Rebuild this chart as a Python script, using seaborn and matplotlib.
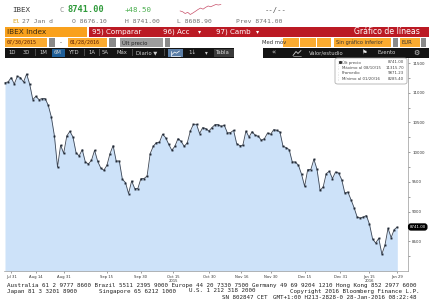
import matplotlib
matplotlib.use("Agg")
import matplotlib.pyplot as plt
import seaborn as sns
import pandas as pd
from matplotlib.patches import Rectangle, FancyBboxPatch
from matplotlib.lines import Line2D

# ---------------- data ----------------
close_a = [11171, 11181, 11255, 11147, 11277, 11255, 11181, 11316, 11142, 10885, 10940,
           10885, 10902, 10902, 10789, 10592, 10272, 9750, 10116, 9981, 10272, 10351,
           10255, 9993, 9936, 10043, 9835, 9801, 9863, 10032, 9846, 9734, 9695]
close_b = [9779, 9976, 10111, 9851, 9851, 9543, 9488, 9303, 9515, 9387, 9387, 9555,
           9555, 9599, 9976, 10099, 10161, 10166, 10301, 10245, 10133, 10032, 10099,
           10228, 10183, 10099, 10154, 10356, 10469, 10469, 10313, 10414]
close_c = [10397, 10356, 10414, 10464, 10464, 10435, 10452, 10323, 10329, 10368, 10144,
           10111, 10116, 10356, 10255, 10346, 10284, 10267, 10200, 10228, 10323, 10301,
           10380, 10368, 10340, 10099, 10077, 10043, 9835, 9835, 9779, 9628, 9426]
close_d = [9707, 9707, 9880, 9712, 9358, 9414, 9639, 9678, 9555, 9666, 9649, 9538,
           9313, 9330, 9202, 9067, 8909, 8892, 8909, 8933, 8786, 8539, 8471, 8550,
           8285, 8433, 8719, 8562, 8697, 8741]
close_values = close_a + close_b + close_c + close_d

tick_labels = ["Jul 31", "Aug 14", "Aug 31", "Sep 15", "Sep 30", "Oct 15\n2015", "Oct 30",
               "Nov 16", "Nov 30", "Dec 15", "Dec 31", "Jan 15\n2016", "Jan 29"]
tick_index = [2, 10, 19, 33, 44, 54.5, 66, 76.5, 86, 97, 108.5, 118, 127]
y_ticks = [8500, 9000, 9500, 10000, 10500, 11000, 11500]
y_minor = [8250, 8750, 9250, 9750, 10250, 10750, 11250]
last_price = 8741.00

intraday = [8676, 8668, 8650, 8662, 8640, 8655, 8672, 8690, 8705, 8694, 8712, 8726,
            8718, 8730, 8741, 8736, 8741]

legend_names = ["Últ precio", "Máximo al 08/10/15", "Promedio", "Mínimo al 01/20/16"]
legend_values = ["8741.00", "11315.70", "9871.23", "8285.40"]

# ---------------- figure ----------------
sns.set_style("white")
plt.rcParams["font.family"] = ["DejaVu Sans"]
W, H = 432, 306
fig = plt.figure(figsize=(W / 100, H / 100), dpi=100)
fig.patch.set_facecolor("white")


def fx(x):
    return x / W


def fy(y):
    return 1 - y / H


def rect(x0, y0, x1, y1, color, z=1, ec="none", lw=0):
    fig.add_artist(Rectangle((fx(x0), fy(y1)), fx(x1) - fx(x0), fy(y0) - fy(y1),
                             transform=fig.transFigure, facecolor=color, edgecolor=ec,
                             lw=lw, zorder=z))


def txt(x, y, s, size=4.5, color="#333333", family="DejaVu Sans", weight="normal",
        ha="left", z=5):
    fig.text(fx(x), fy(y), s, fontsize=size, color=color, family=family, weight=weight,
             ha=ha, va="center", zorder=z)


def poly(xs, ys, color, lw=0.5, z=6):
    fig.add_artist(Line2D([fx(v) for v in xs], [fy(v) for v in ys],
                          transform=fig.transFigure, color=color, lw=lw, zorder=z))


MONO = "DejaVu Sans Mono"
ORANGE = "#f9a11c"
ORANGE2 = "#fbab30"
RED = "#bb1a24"

# ---- header row 1
txt(12, 10, "IBEX", 5.4, "#3a3a3a", MONO)
txt(60, 10, "C", 5.2, "#8a8a8a", MONO)
txt(67, 10, "8741.00", 6.2, "#2f9a3a", MONO, "bold")
txt(125, 10, "+48.50", 5.4, "#4caf50", MONO)
txt(265, 10, "--/--", 5.2, "#555555", MONO)
sp = fig.add_axes([fx(178), fy(15), fx(223) - fx(178), fy(4) - fy(15)])
sns.lineplot(x=list(range(len(intraday))), y=intraday, ax=sp, color="#c8506a", lw=0.5)
sp.axis("off")

# ---- header row 2
txt(12, 21.5, "El", 4.6, "#d9a21c", MONO)
txt(22, 21.5, "27 Jan d", 4.6, "#707070", MONO)
txt(72, 21.5, "O 8676.10", 4.6, "#707070", MONO)
txt(125, 21.5, "H 8741.00", 4.6, "#707070", MONO)
txt(177, 21.5, "L 8608.90", 4.6, "#707070", MONO)
txt(236, 21.5, "Prev 8741.00", 4.6, "#707070", MONO)

# ---- row 3 : orange + red bar
rect(5, 27, 87, 37, ORANGE)
txt(7, 32, "IBEX Index", 5.3, "#3b2a10")
rect(89, 27, 429, 37, RED)
txt(92, 32, "95) Comparar", 5.1, "white")
txt(163, 32, "96) Acc", 5.1, "white")
txt(198, 32, "▾", 4.5, "white")
txt(216, 32, "97) Camb", 5.1, "white")
txt(256, 32, "▾", 4.5, "white")
txt(420, 32, "Gráfico de líneas", 5.6, "white", ha="right")

# ---- row 4 : date boxes etc
rect(5, 38.5, 47, 46.5, ORANGE2)
txt(7, 42.5, "07/30/2015", 3.6, "#5a1a00", MONO)
rect(48.5, 38.5, 55, 46.5, "#8a8a8a")
txt(60, 42.5, "-", 4, "#333333")
rect(68, 38.5, 107, 46.5, ORANGE2)
txt(70, 42.5, "01/28/2016", 3.6, "#5a1a00", MONO)
rect(109, 38.5, 116, 46.5, "#8a8a8a")
rect(120, 38.5, 163, 46.5, "#9d9d9d")
txt(122, 42.5, "Últ precio", 3.8, "#222222")
rect(164.5, 38.5, 170, 46.5, "#8a8a8a")
txt(262, 42.5, "Med móv", 3.8, "#333333")
for a, b in [(283, 298.5), (299.5, 315.5), (316.5, 331)]:
    rect(a, 38.5, b, 46.5, ORANGE2)
rect(334, 38.5, 391, 46.5, ORANGE2)
txt(336, 42.5, "Sin gráfico inferior", 3.6, "#333333")
rect(392.5, 38.5, 398, 46.5, "#8a8a8a")
rect(399.5, 38.5, 419.5, 46.5, ORANGE2)
txt(402, 42.5, "EUR", 3.8, "#333333")
rect(421, 38.5, 426, 46.5, "#8a8a8a")

# ---- row 5 : black toolbars
rect(5, 48, 234, 57.5, "#141414")
buttons = [("1D", 8), ("3D", 23), ("1M", 39), ("6M", 54), ("YTD", 69), ("1A", 88),
           ("5A", 102), ("Máx", 117), ("Diario ▼", 136)]
rect(52, 48.8, 65, 56.7, "#1e5e98")
for lab, xx in buttons:
    txt(xx, 52.8, lab, 3.8, "#d0d0d0")
for xx in [19.5, 35, 50.5, 66.5, 84, 99, 113, 132, 164]:
    rect(xx, 49.5, xx + 0.5, 56, "#4a4a4a")
rect(168, 48.8, 183, 56.7, "#5c7fa8")
poly([171, 171, 180], [50.5, 55.5, 55.5], "white", 0.5)
poly([172, 174.5, 176.5, 179.5], [54.5, 52, 53.2, 51], "white", 0.5)
txt(188, 52.8, "1↓", 4, "#d0d0d0")
txt(205, 52.8, "▾", 4, "#d0d0d0")
rect(214, 48.8, 234, 56.7, "#3a3a3a")
txt(216, 52.8, "Tabla", 3.8, "#d8d8d8")
rect(263, 48, 429, 57.5, "#141414")
txt(271, 52.8, "«", 5, "#d0d0d0")
poly([293, 296, 298, 301], [55.5, 51.5, 53.5, 50.5], "#d0d0d0", 0.6)
poly([293, 301], [56, 56], "#d0d0d0", 0.4)
txt(309, 52.8, "Valor/estudio", 3.8, "#d0d0d0")
txt(362, 52.8, "⚑", 4.5, "#e8e8e8")
txt(378, 52.8, "Evento", 3.8, "#d0d0d0")
txt(413, 52.8, "⚙", 5, "#d0d0d0")

# ---------------- main chart ----------------
ax = fig.add_axes([fx(4), fy(271), fx(408) - fx(4), fy(58) - fy(271)])
df = pd.DataFrame({"day": range(len(close_values)), "close": close_values})
ax.fill_between(df["day"], df["close"], 8000, color="#cde2f9", lw=0, zorder=1)
sns.lineplot(data=df, x="day", y="close", ax=ax, color="#3d4654", lw=0.6, marker="s",
             markersize=1.4, markeredgewidth=0, markerfacecolor="#222a36", zorder=3)
ax.set_xlabel("")
ax.set_ylabel("")
ax.set_facecolor("white")
for s in ["top", "left"]:
    ax.spines[s].set_visible(False)
for s in ["bottom", "right"]:
    ax.spines[s].set_color("#9a9a9a")
    ax.spines[s].set_linewidth(0.5)
ax.yaxis.tick_right()
ax.set_yticks(y_ticks)
ax.set_yticklabels([str(v) for v in y_ticks])
ax.set_yticks(y_minor, minor=True)
ax.tick_params(axis="y", which="both", right=True, length=1.5, width=0.5, color="#777777",
               labelsize=2.9, labelcolor="#333333", pad=1.5)
ax.set_xticks(tick_index)
ax.set_xticklabels(tick_labels)
ax.tick_params(axis="x", bottom=True, length=1.5, width=0.5, color="#777777",
               labelsize=2.7, labelcolor="#333333", pad=1.2)
ax.grid(False)
px_per_day = (397.3 - 5) / (len(close_values) - 1)
ax.set_xlim(-1 / px_per_day, -1 / px_per_day + 404 / px_per_day)
ax.set_ylim(8000, 8000 + 213 * 16.83)
ax.text(1.004, last_price, "8741.00", transform=ax.get_yaxis_transform(), fontsize=2.8,
        color="white", va="center", ha="left",
        bbox=dict(boxstyle="round,pad=0.25,rounding_size=0.6", fc="black", ec="black"))

# ---- hover legend box
fig.add_artist(FancyBboxPatch((fx(335), fy(84)), fx(407) - fx(335), fy(58) - fy(84),
                              boxstyle="round,pad=0,rounding_size=0.006",
                              transform=fig.transFigure, facecolor="white",
                              edgecolor="#a0a0a0", lw=0.5, zorder=10))
for i, (n, v) in enumerate(zip(legend_names, legend_values)):
    yy = 62.5 + i * 5.5
    fig.add_artist(Line2D([fx(337.5), fx(337.5)], [fy(yy - 2), fy(yy + 2)],
                          transform=fig.transFigure, color="#c0c0c0", lw=0.4,
                          ls=":", zorder=11))
    if i == 0:
        fig.add_artist(Line2D([fx(340)], [fy(yy)], transform=fig.transFigure, marker="s",
                              ms=1.2, color="#333333", zorder=12))
    txt(342, yy, n, 2.8, "#444444", z=12)
    txt(404, yy, v, 2.8, "#444444", ha="right", z=12)

# ---------------- footer ----------------
txt(7, 285, "Australia 61 2 9777 8600 Brazil 5511 2395 9000 Europe 44 20 7330 7500 "
    "Germany 49 69 9204 1210 Hong Kong 852 2977 6000", 4.2, "#222222", MONO)
txt(7, 291, "Japan 81 3 3201 8900", 4.2, "#222222", MONO)
txt(99, 291, "Singapore 65 6212 1000", 4.2, "#222222", MONO)
txt(189, 291, "U.S. 1 212 318 2000", 4.2, "#222222", MONO)
txt(290, 291, "Copyright 2016 Bloomberg Finance L.P.", 4.2, "#222222", MONO)
txt(222, 297.5, "SN 802847 CET", 4.2, "#222222", MONO)
txt(273, 297.5, "GMT+1:00 H213-2828-0 28-Jan-2016 08:22:48", 4.2, "#222222", MONO)

fig.savefig("out.png", dpi=100, facecolor="white")
